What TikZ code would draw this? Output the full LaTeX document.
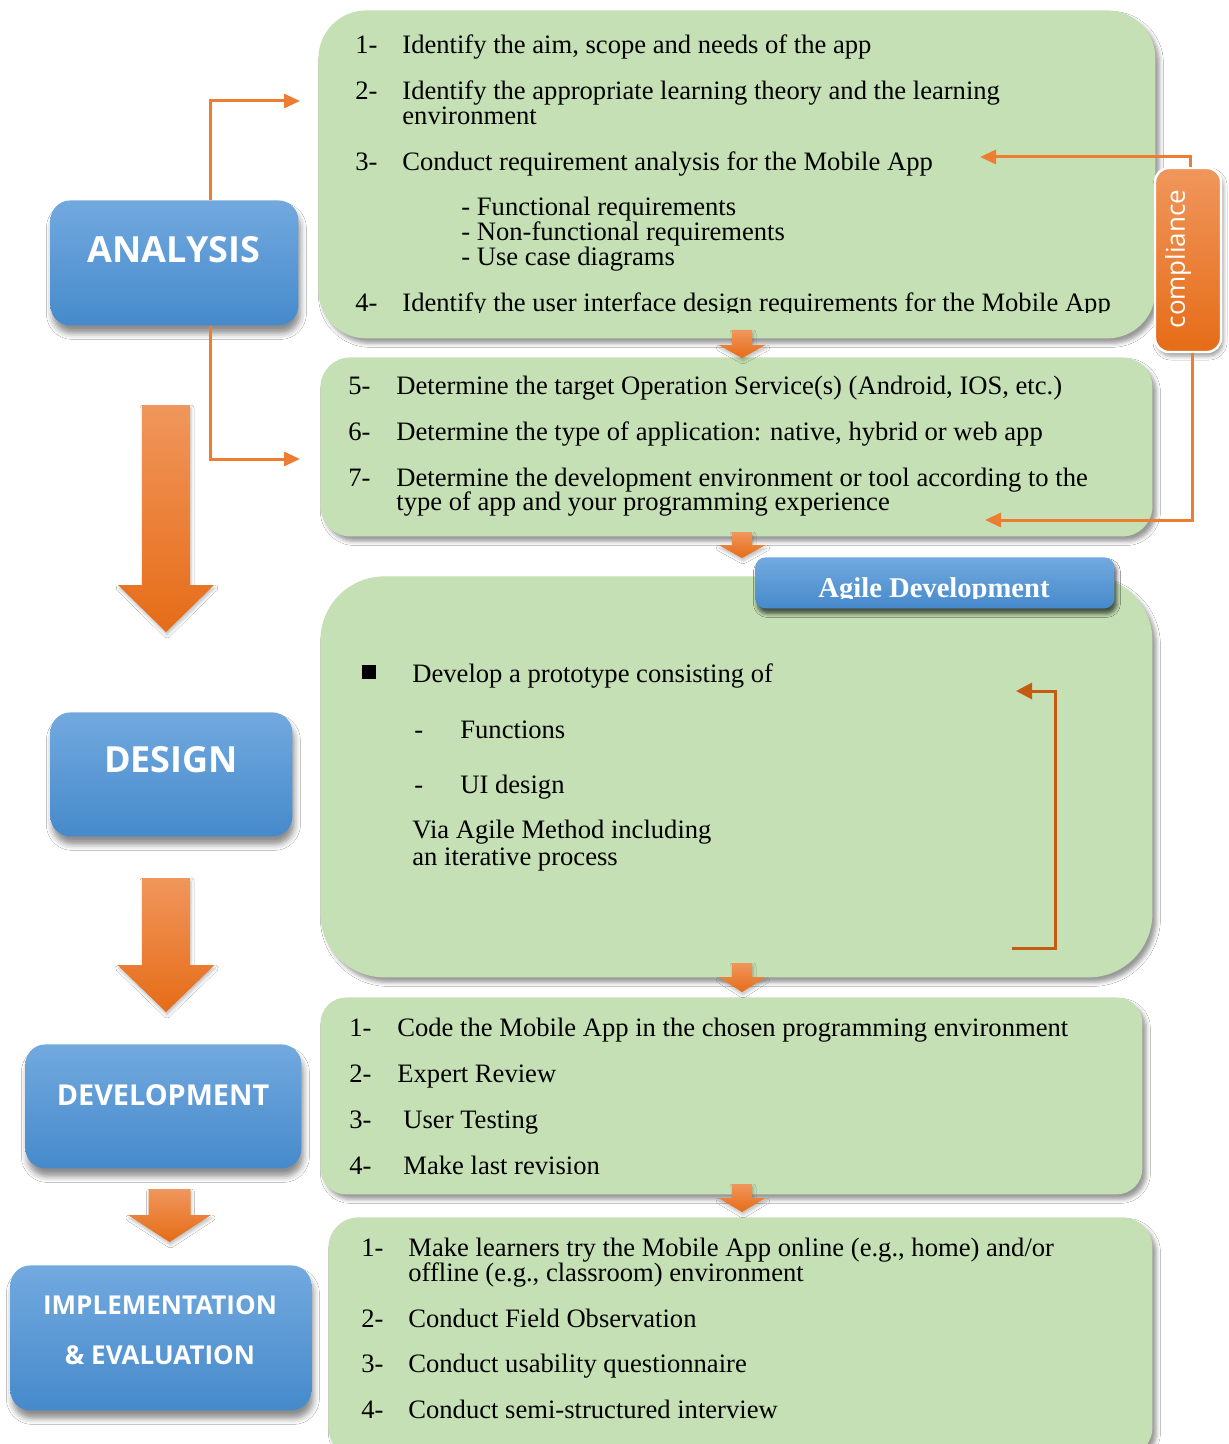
\documentclass[tikz,border=0pt]{standalone}
\usepackage{fontspec}
\setmainfont{Liberation Serif}
\newfontfamily\labelfont{Open Sans}
\usetikzlibrary{shadows.blur,arrows.meta,calc}

\definecolor{boxgreen}{HTML}{C5E0B4}
\definecolor{lineorange}{HTML}{ED7D31}
\definecolor{darkorange}{HTML}{C55A11}
\definecolor{bluetop}{HTML}{72A9DF}
\definecolor{bluebot}{HTML}{468ACB}
\definecolor{orangetop}{HTML}{F0965C}
\definecolor{orangebot}{HTML}{E66C17}

% block arrow pointing down: centre x, top y, head start y, tip y, half shaft, half head
\newcommand\blockdown[6]{%
  \shade[top color=orangetop, bottom color=orangebot,
         blur shadow={shadow xshift=0.5pt, shadow yshift=-1.5pt, shadow opacity=25, shadow blur radius=1.5pt}]
    (#1-#5,#2) -- (#1+#5,#2) -- (#1+#5,#3) -- (#1+#6,#3) -- (#1,#4)
    -- (#1-#6,#3) -- (#1-#5,#3) -- cycle;}

\begin{document}
\begin{tikzpicture}[x=0.5pt, y=-0.5pt,
  greenbox/.style={fill=boxgreen, draw=none, anchor=north west, inner sep=0pt,
    blur shadow={shadow xshift=2pt, shadow yshift=-2.5pt, shadow opacity=40, shadow blur radius=2pt}},
  phasebox/.style={draw=none, rounded corners=10pt, top color=bluetop, bottom color=bluebot,
    anchor=north west, inner sep=0pt,
    blur shadow={shadow xshift=1pt, shadow yshift=-4pt, shadow opacity=45, shadow blur radius=3pt}},
  phaselabel/.style={text=white, font=\labelfont\bfseries, inner sep=0pt},
  txt/.style={anchor=base west, inner sep=0pt, font=\fontsize{13.3}{14}\selectfont},
  orangeline/.style={draw=lineorange, line width=1.5pt, -{Triangle[length=8pt,width=7pt]}},
  loopline/.style={draw=darkorange, line width=1.5pt, -{Triangle[length=8pt,width=8pt]}},
]
\clip (0,0) rectangle (1229,1444);
\fill[white] (0,0) rectangle (1229,1444);

% ---------- green step boxes ----------
\node[greenbox, rounded corners=24pt, minimum width=418.5pt, minimum height=164pt] (aim) at (318,10) {};
\node[greenbox, rounded corners=15pt, minimum width=416pt, minimum height=89.5pt] (target) at (320,357) {};
\node[greenbox, rounded corners=32pt, minimum width=416pt, minimum height=200.5pt] (proto) at (320,576) {};
\node[greenbox, rounded corners=13pt, minimum width=411pt, minimum height=98.5pt] (code) at (320,997) {};
\node[greenbox, rounded corners=15pt, minimum width=412pt, minimum height=120pt] (try) at (328,1217) {};

% ---------- analysis steps ----------
\node[txt] (n1) at (355,54) {1-};
\node[txt] (t1) at (402,54) {Identify the aim, scope and needs of the app};
\node[txt] (n2) at (355,100) {2-};
\node[txt] (t2) at (402,100) {Identify the appropriate learning theory and the learning};
\node[txt] (t2b) at (402,125) {environment};
\node[txt] (n3) at (355,171) {3-};
\node[txt] (t3) at (402,171) {Conduct requirement analysis for the Mobile App};
\node[txt] (s1) at (461,216) {- Functional requirements};
\node[txt] (s2) at (461,241) {- Non-functional requirements};
\node[txt] (s3) at (461,266) {- Use case diagrams};
\begin{scope}
  \clip (330,280) rectangle (1140,313);
  \node[txt] (n4) at (355,312) {4-};
  \node[txt] (t4) at (402,312) {Identify the user interface design requirements for the Mobile App};
\end{scope}

\node[txt] (n5) at (348,394) {5-};
\node[txt] (t5) at (396,394) {Determine the target Operation Service(s) (Android, IOS, etc.)};
\node[txt] (n6) at (348,440) {6-};
\node[txt] (t6) at (396,440) {Determine the type of application: native, hybrid or web app};
\node[txt] (n7) at (348,486) {7-};
\node[txt] (t7) at (396,486) {Determine the development environment or tool according to the};
\node[txt] (t7b) at (396,510) {type of app and your programming experience};

% ---------- design ----------
\node[fill=black, minimum size=7pt, inner sep=0pt] (sq) at (369,672) {};
\node[txt] (d1) at (412,682) {Develop a prototype consisting of};
\node[txt] (dd1) at (414,738) {-};
\node[txt] (d2) at (460,738) {Functions};
\node[txt] (dd2) at (414,793) {-};
\node[txt] (d3) at (460,793) {UI design};
\node[txt] (d4) at (412,838) {Via Agile Method including};
\node[txt] (d5) at (412,865) {an iterative process};

% ---------- development ----------
\node[txt] (m1) at (349,1036) {1-};
\node[txt] (v1) at (397,1036) {Code the Mobile App in the chosen programming environment};
\node[txt] (m2) at (349,1082) {2-};
\node[txt] (v2) at (397,1082) {Expert Review};
\node[txt] (m3) at (349,1128) {3-};
\node[txt] (v3) at (403,1128) {User Testing};
\node[txt] (m4) at (349,1174) {4-};
\node[txt] (v4) at (403,1174) {Make last revision};

% ---------- implementation & evaluation ----------
\node[txt] (k1) at (361,1256) {1-};
\node[txt] (e1) at (408,1256) {Make learners try the Mobile App online (e.g., home) and/or};
\node[txt] (e1b) at (408,1281) {offline (e.g., classroom) environment};
\node[txt] (k2) at (361,1327) {2-};
\node[txt] (e2) at (408,1327) {Conduct Field Observation};
\node[txt] (k3) at (361,1372) {3-};
\node[txt] (e3) at (408,1372) {Conduct usability questionnaire};
\node[txt] (k4) at (361,1418) {4-};
\node[txt] (e4) at (408,1418) {Conduct semi-structured interview};

% ---------- small arrows between step boxes ----------
\blockdown{742}{330}{345}{358}{10}{23.5}
\blockdown{742}{532}{545}{558}{10}{23.5}
\blockdown{742}{963}{977}{992}{10}{23.5}
\blockdown{742}{1184}{1198}{1212}{10}{23.5}

% ---------- links from the analysis phase ----------
\coordinate (tap) at (210,0);
\coordinate (toA) at (300,101);
\coordinate (toB) at (300,459);

% ---------- phase boxes ----------
\node[phasebox, minimum width=124pt, minimum height=62.5pt] (analysis) at (50,200) {};
\node[phaselabel, font=\labelfont\bfseries\fontsize{18}{20}\selectfont] (analysislbl) at (174,250) {ANALYSIS};
\node[phasebox, minimum width=121pt, minimum height=62pt] (design) at (50,712) {};
\node[phaselabel, font=\labelfont\bfseries\fontsize{18}{20}\selectfont] (designlbl) at (171,760) {DESIGN};
\node[phasebox, minimum width=138pt, minimum height=62pt] (devel) at (25,1044) {};
\node[phaselabel, font=\labelfont\bfseries\fontsize{14.4}{16}\selectfont] (devellbl) at (163,1095) {DEVELOPMENT};
\node[phasebox, minimum width=150.5pt, minimum height=72.5pt] (impl) at (10,1265) {};
\node[phaselabel, font=\labelfont\bfseries\fontsize{13}{15}\selectfont] (impllbl) at (160,1305) {IMPLEMENTATION};
\node[phaselabel, font=\labelfont\bfseries\fontsize{13}{15}\selectfont] (evallbl) at (160,1355) {\& EVALUATION};

\draw[orangeline] (tap |- analysis.north) |- (toA);
\draw[orangeline] (tap |- analysis.south) |- (toB);

% ---------- big arrows between phases ----------
\blockdown{166}{405}{585}{632}{24}{48}
\blockdown{166}{878}{965}{1012}{24}{48.5}
\blockdown{169.5}{1189}{1215}{1242}{21}{41.5}

% ---------- compliance feedback ----------
\node[draw=white, line width=1.2pt, rounded corners=7pt, top color=orangetop, bottom color=orangebot,
      minimum width=33pt, minimum height=92pt, inner sep=0pt,
      blur shadow={shadow xshift=1pt, shadow yshift=-2pt, shadow opacity=40, shadow blur radius=2pt}]
      (compliance) at (1188,260) {};
\node[text=white, rotate=90, inner sep=0pt, font=\labelfont\fontsize{13}{15}\selectfont] (compllbl) at (1178,259) {compliance};
\coordinate (c3) at (980,157);
\coordinate (c7) at (985,520);
\draw[orangeline] ([xshift=1pt]compliance.north) |- (c3);
\draw[orangeline] ([xshift=2pt]compliance.south) |- (c7);

% ---------- agile loop ----------
\coordinate (loopstart) at (1012,948);
\coordinate (loopcorner) at (1055,691);
\coordinate (loopend) at (1016,691);
\draw[loopline] (loopstart) -| (loopcorner) -- (loopend);

\node[phasebox, rounded corners=5pt, minimum width=179.5pt, minimum height=25.5pt,
      blur shadow={shadow xshift=1pt, shadow yshift=-2.5pt, shadow opacity=40, shadow blur radius=2pt}]
      (agile) at (755,557) {};
\begin{scope}
  \clip (755,557) rectangle (1114,598);
  \node[text=white, inner sep=0pt, anchor=base, font=\bfseries\fontsize{14.3}{16}\selectfont] (agilelbl) at (934,597) {Agile Development};
\end{scope}
\end{tikzpicture}
\end{document}
